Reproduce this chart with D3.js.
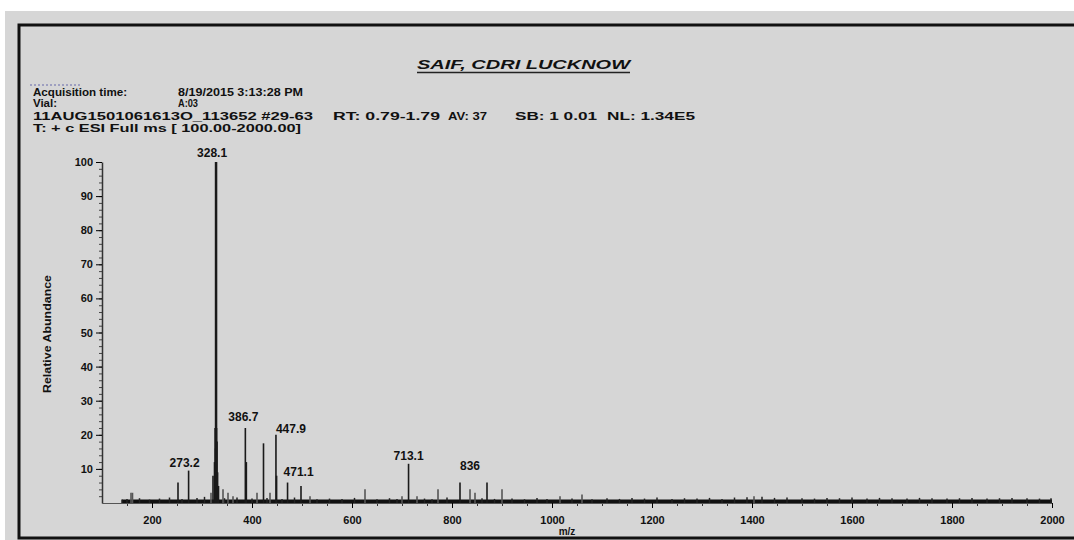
<!DOCTYPE html>
<html>
<head>
<meta charset="utf-8">
<script src="https://cdn.jsdelivr.net/npm/d3@7"></script>
<style>
  body { margin: 0; background: #fff; }
  text { font-family: "Liberation Sans", Arial, sans-serif; font-weight: bold; fill: #111; }
</style>
</head>
<body>
<div id="chart"></div>
<script>
// spectrum peaks (m/z, relative abundance %)
var peakMz  = [158, 161, 252, 273.2, 318, 322, 325, 326.2, 327.1, 328.1, 329.1, 330.1, 331.2, 333, 342, 352, 362,
               386.7, 388.7, 410, 423, 436, 447.9, 449.2, 471.1, 498, 516, 626, 700, 713.1, 730, 772, 816, 836, 846, 870, 900, 1016, 1060, 1404];
var peakInt = [3, 3, 6, 9.5, 3, 8, 12, 22, 16, 100, 22, 18, 9, 5, 4, 3, 2,
               22, 12, 3, 17.5, 3, 20, 8, 6, 5, 2, 4, 2, 11.5, 2, 4, 6, 4, 3, 6, 4, 2, 2.5, 2];

// baseline noise
var noiseMz  = [140, 150, 175, 195, 215, 235, 260, 290, 305, 345, 370, 400, 430, 460, 485, 530, 555, 580, 605, 650, 675, 690, 745,
                760, 790, 860, 885, 920, 945, 970, 990, 1040, 1080, 1110, 1135, 1160, 1185, 1210, 1240, 1265, 1290, 1315, 1340,
                1365, 1390, 1420, 1445, 1470, 1500, 1525, 1550, 1575, 1600, 1630, 1655, 1680, 1710, 1735, 1760, 1790, 1815,
                1840, 1870, 1895, 1920, 1950, 1975, 1998];
var noiseInt = [1, 1.2, 1.4, 1, 1.3, 1.6, 1.2, 1.5, 1.8, 1.4, 1.6, 1.3, 1.5, 1.2, 1.6, 1.1, 1.3, 1.2, 1.5, 1.1, 1.4, 1.2, 1.3,
                1.1, 1.6, 1.4, 1.2, 1.3, 1.1, 1.5, 1.2, 1.3, 1.1, 1.4, 1.2, 1.5, 1.3, 1.6, 1.2, 1.4, 1.3, 1.5, 1.2,
                1.6, 1.7, 1.8, 1.5, 1.6, 1.4, 1.3, 1.5, 1.4, 1.6, 1.3, 1.5, 1.4, 1.3, 1.5, 1.4, 1.3, 1.4,
                1.5, 1.3, 1.4, 1.5, 1.4, 1.3, 1.4];

// annotated peaks
var labelMz   = [328.1, 386.7, 447.9, 273.2, 471.1, 713.1, 836];
var labelText = ["328.1", "386.7", "447.9", "273.2", "471.1", "713.1", "836"];

var xTicks = [200, 400, 600, 800, 1000, 1200, 1400, 1600, 1800, 2000];
var yTicks = [10, 20, 30, 40, 50, 60, 70, 80, 90, 100];

var title = "SAIF, CDRI LUCKNOW";
var header = [
  ["Acquisition time:", "8/19/2015 3:13:28 PM"],
  ["Vial:", "A:03"]
];
var scanInfo = ["11AUG1501061613O_113652 #29-63", "RT: 0.79-1.79", "AV: 37", "SB: 1 0.01", "NL: 1.34E5"];
var filterLine = "T: + c ESI Full ms [ 100.00-2000.00]";

var W = 1074, H = 540;
var svg = d3.select("#chart").append("svg").attr("width", W).attr("height", H);

// paper + frame
svg.append("rect").attr("x", 5).attr("y", 11).attr("width", W - 5).attr("height", H - 11).attr("fill", "#d6d6d6");
svg.append("path").attr("d", "M" + W + ",25 H19 V538 H" + W)
  .attr("fill", "none").attr("stroke", "#111").attr("stroke-width", 3);

var x = d3.scaleLinear().domain([100, 2000]).range([102, 1052]);
var y = d3.scaleLinear().domain([0, 100]).range([503, 162]);

// header texts
svg.append("text").attr("x", 417).attr("y", 69).attr("font-size", 13)
  .attr("font-style", "italic").attr("textLength", 213).attr("lengthAdjust", "spacingAndGlyphs").text(title);
svg.append("line").attr("x1", 417).attr("x2", 630).attr("y1", 72.5).attr("y2", 72.5)
  .attr("stroke", "#222").attr("stroke-width", 1.5);

svg.append("line").attr("x1", 30).attr("x2", 82).attr("y1", 85).attr("y2", 85)
  .attr("stroke", "#6668aa").attr("stroke-dasharray", "2,2");

var hdrW = [[94, 125], [24, 20]];
header.forEach(function(h, i) {
  svg.append("text").attr("x", 33).attr("y", 96 + i * 11).attr("font-size", 10)
    .attr("textLength", hdrW[i][0]).attr("lengthAdjust", "spacingAndGlyphs").text(h[0]);
  svg.append("text").attr("x", 178).attr("y", 96 + i * 11).attr("font-size", 10)
    .attr("textLength", hdrW[i][1]).attr("lengthAdjust", "spacingAndGlyphs").text(h[1]);
});

var scanX = [33, 333, 448, 515, 607], scanW = [280, 107, 39, 82, 88];
scanInfo.forEach(function(s, i) {
  svg.append("text").attr("x", scanX[i]).attr("y", 120).attr("font-size", 11)
    .attr("textLength", scanW[i]).attr("lengthAdjust", "spacingAndGlyphs").text(s);
});
svg.append("text").attr("x", 33).attr("y", 132).attr("font-size", 11)
  .attr("textLength", 268).attr("lengthAdjust", "spacingAndGlyphs").text(filterLine);

// axes
var xMinor = d3.range(150, 2001, 50);
svg.append("g").attr("transform", "translate(0," + y(0) + ")")
  .call(d3.axisBottom(x).tickValues(xMinor).tickSize(3).tickFormat(""))
  .call(function(g) { g.select(".domain").remove(); g.selectAll("line").attr("stroke", "#333"); });
var gx = svg.append("g").attr("transform", "translate(0," + y(0) + ")")
  .call(d3.axisBottom(x).tickValues(xTicks).tickSize(5).tickSizeOuter(0).tickFormat(d3.format("d")));
gx.select(".domain").attr("stroke", "#555");
gx.selectAll("text").attr("font-size", 11).attr("dy", "1.2em").attr("font-family", "Liberation Sans").attr("font-weight", "bold");

var yMinor = d3.range(2, 100, 2);
svg.append("g").attr("transform", "translate(" + x(100) + ",0)")
  .call(d3.axisLeft(y).tickValues(yMinor).tickSize(3).tickFormat(""))
  .call(function(g) { g.select(".domain").remove(); g.selectAll("line").attr("stroke", "#444"); });
var gy = svg.append("g").attr("transform", "translate(" + x(100) + ",0)")
  .call(d3.axisLeft(y).tickValues(yTicks).tickSize(6).tickSizeOuter(0));
gy.select(".domain").attr("stroke", "#333").attr("stroke-width", 1.5);
gy.selectAll("text").attr("font-size", 11).attr("font-family", "Liberation Sans").attr("font-weight", "bold");

svg.append("text").attr("transform", "translate(51,334) rotate(-90)").attr("text-anchor", "middle")
  .attr("font-size", 10).attr("textLength", 118).attr("lengthAdjust", "spacingAndGlyphs").text("Relative Abundance");
svg.append("text").attr("x", 567).attr("y", 535).attr("text-anchor", "middle").attr("font-size", 10).text("m/z");

// baseline band
svg.append("line").attr("x1", x(140)).attr("x2", x(2000)).attr("y1", y(0.5)).attr("y2", y(0.5))
  .attr("stroke", "#111").attr("stroke-width", 3.5);

// noise sticks
svg.append("g").selectAll("line").data(noiseMz).join("line")
  .attr("x1", function(d) { return x(d); }).attr("x2", function(d) { return x(d); })
  .attr("y1", y(0)).attr("y2", function(d, i) { return y(noiseInt[i]); })
  .attr("stroke", "#222").attr("stroke-width", 1.5);

// peaks
svg.append("g").selectAll("line").data(peakMz).join("line")
  .attr("x1", function(d) { return x(d); }).attr("x2", function(d) { return x(d); })
  .attr("y1", y(0)).attr("y2", function(d, i) { return y(peakInt[i]); })
  .attr("stroke", function(d, i) { return peakInt[i] > 4 ? "#1a1a1a" : "#555"; })
  .attr("stroke-width", function(d, i) { return peakInt[i] >= 100 ? 2.5 : 1.6; });

// peak labels
var labOff = {"328.1": [-4, -5, "middle"], "386.7": [-2, -7, "middle"], "447.9": [0, -2, "start"],
              "273.2": [-4, -4, "middle"], "471.1": [-4, -7, "start"], "713.1": [0, -4, "middle"], "836": [0, -19, "middle"]};
labelMz.forEach(function(m, i) {
  var k = peakMz.indexOf(m), o = labOff[labelText[i]];
  svg.append("text").attr("x", x(m) + o[0]).attr("y", y(peakInt[k]) + o[1])
    .attr("text-anchor", o[2]).attr("font-size", 12).text(labelText[i]);
});
</script>
</body>
</html>
